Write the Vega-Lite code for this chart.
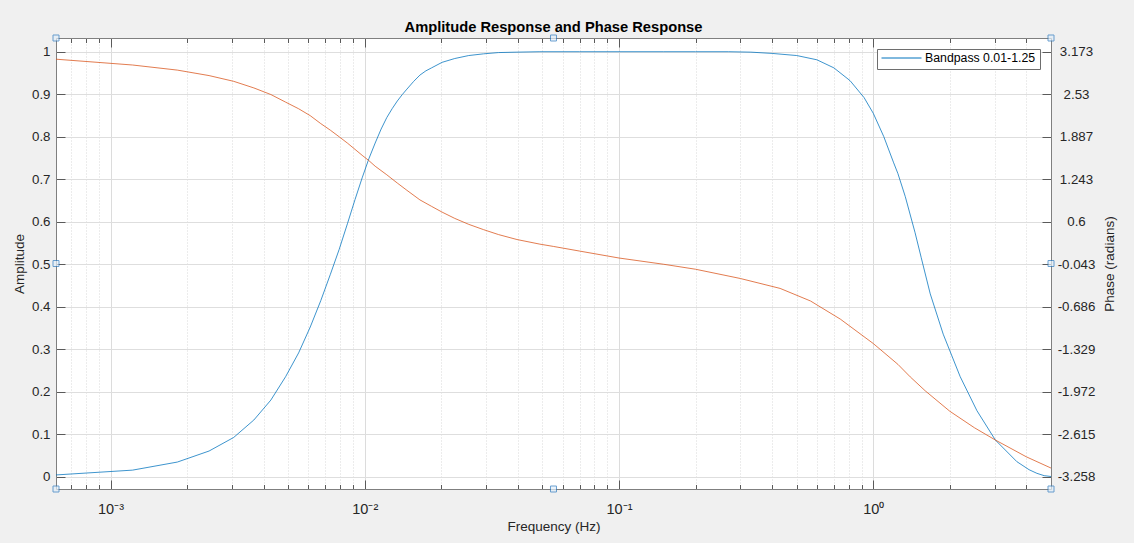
{
  "$schema": "https://vega.github.io/schema/vega-lite/v6.json",
  "width": 995,
  "height": 451,
  "autosize": {"type": "none"},
  "padding": {"left": 56, "top": 38, "right": 83, "bottom": 54},
  "background": "#f0f0f0",
  "title": {
    "text": "Amplitude Response and Phase Response",
    "font": "Liberation Sans",
    "fontSize": 14.7,
    "fontWeight": "bold",
    "color": "#000000",
    "anchor": "middle",
    "offset": -1.5
  },
  "config": {
    "locale": {
      "number": {"decimal": ".", "thousands": ",", "grouping": [3], "currency": ["$", ""], "minus": "-"}
    },
    "view": {"fill": "#ffffff", "stroke": "#7f7f7f"},
    "font": "Liberation Sans",
    "axis": {
      "domain": false,
      "labelFont": "Liberation Sans",
      "labelFontSize": 13.3,
      "labelColor": "#262626",
      "titleFont": "Liberation Sans",
      "titleFontSize": 13.5,
      "titleFontWeight": "normal",
      "titleColor": "#262626",
      "tickColor": "#5a5a5a",
      "labelOverlap": false,
      "labelFlush": false
    }
  },
  "datasets": {
    "amp": [
      {"f": 0.00061035, "amp": 0.0037, "series": "Bandpass 0.01-1.25"},
      {"f": 0.0012207, "amp": 0.015, "series": "Bandpass 0.01-1.25"},
      {"f": 0.0018311, "amp": 0.034, "series": "Bandpass 0.01-1.25"},
      {"f": 0.0024414, "amp": 0.060, "series": "Bandpass 0.01-1.25"},
      {"f": 0.0030518, "amp": 0.092, "series": "Bandpass 0.01-1.25"},
      {"f": 0.0036621, "amp": 0.133, "series": "Bandpass 0.01-1.25"},
      {"f": 0.0042725, "amp": 0.180, "series": "Bandpass 0.01-1.25"},
      {"f": 0.0048828, "amp": 0.235, "series": "Bandpass 0.01-1.25"},
      {"f": 0.0054932, "amp": 0.291, "series": "Bandpass 0.01-1.25"},
      {"f": 0.0061035, "amp": 0.352, "series": "Bandpass 0.01-1.25"},
      {"f": 0.0067139, "amp": 0.414, "series": "Bandpass 0.01-1.25"},
      {"f": 0.0073242, "amp": 0.476, "series": "Bandpass 0.01-1.25"},
      {"f": 0.0079346, "amp": 0.535, "series": "Bandpass 0.01-1.25"},
      {"f": 0.0085449, "amp": 0.595, "series": "Bandpass 0.01-1.25"},
      {"f": 0.0091553, "amp": 0.652, "series": "Bandpass 0.01-1.25"},
      {"f": 0.0097656, "amp": 0.703, "series": "Bandpass 0.01-1.25"},
      {"f": 0.010376, "amp": 0.748, "series": "Bandpass 0.01-1.25"},
      {"f": 0.010986, "amp": 0.785, "series": "Bandpass 0.01-1.25"},
      {"f": 0.011597, "amp": 0.818, "series": "Bandpass 0.01-1.25"},
      {"f": 0.012207, "amp": 0.845, "series": "Bandpass 0.01-1.25"},
      {"f": 0.012817, "amp": 0.866, "series": "Bandpass 0.01-1.25"},
      {"f": 0.013428, "amp": 0.884, "series": "Bandpass 0.01-1.25"},
      {"f": 0.014038, "amp": 0.899, "series": "Bandpass 0.01-1.25"},
      {"f": 0.014648, "amp": 0.912, "series": "Bandpass 0.01-1.25"},
      {"f": 0.015564, "amp": 0.930, "series": "Bandpass 0.01-1.25"},
      {"f": 0.016479, "amp": 0.945, "series": "Bandpass 0.01-1.25"},
      {"f": 0.017395, "amp": 0.955, "series": "Bandpass 0.01-1.25"},
      {"f": 0.018311, "amp": 0.962, "series": "Bandpass 0.01-1.25"},
      {"f": 0.020142, "amp": 0.975, "series": "Bandpass 0.01-1.25"},
      {"f": 0.022583, "amp": 0.984, "series": "Bandpass 0.01-1.25"},
      {"f": 0.025635, "amp": 0.991, "series": "Bandpass 0.01-1.25"},
      {"f": 0.029297, "amp": 0.995, "series": "Bandpass 0.01-1.25"},
      {"f": 0.033569, "amp": 0.998, "series": "Bandpass 0.01-1.25"},
      {"f": 0.039673, "amp": 0.999, "series": "Bandpass 0.01-1.25"},
      {"f": 0.048828, "amp": 1.0, "series": "Bandpass 0.01-1.25"},
      {"f": 0.07, "amp": 1.0, "series": "Bandpass 0.01-1.25"},
      {"f": 0.1, "amp": 1.0, "series": "Bandpass 0.01-1.25"},
      {"f": 0.15, "amp": 1.0, "series": "Bandpass 0.01-1.25"},
      {"f": 0.2, "amp": 1.0, "series": "Bandpass 0.01-1.25"},
      {"f": 0.27, "amp": 1.0, "series": "Bandpass 0.01-1.25"},
      {"f": 0.33, "amp": 0.999, "series": "Bandpass 0.01-1.25"},
      {"f": 0.4, "amp": 0.996, "series": "Bandpass 0.01-1.25"},
      {"f": 0.5, "amp": 0.991, "series": "Bandpass 0.01-1.25"},
      {"f": 0.6, "amp": 0.981, "series": "Bandpass 0.01-1.25"},
      {"f": 0.7, "amp": 0.962, "series": "Bandpass 0.01-1.25"},
      {"f": 0.81, "amp": 0.932, "series": "Bandpass 0.01-1.25"},
      {"f": 0.92, "amp": 0.892, "series": "Bandpass 0.01-1.25"},
      {"f": 1.0, "amp": 0.855, "series": "Bandpass 0.01-1.25"},
      {"f": 1.1, "amp": 0.80, "series": "Bandpass 0.01-1.25"},
      {"f": 1.2, "amp": 0.74, "series": "Bandpass 0.01-1.25"},
      {"f": 1.25, "amp": 0.713, "series": "Bandpass 0.01-1.25"},
      {"f": 1.336, "amp": 0.659, "series": "Bandpass 0.01-1.25"},
      {"f": 1.46, "amp": 0.574, "series": "Bandpass 0.01-1.25"},
      {"f": 1.544, "amp": 0.515, "series": "Bandpass 0.01-1.25"},
      {"f": 1.675, "amp": 0.43, "series": "Bandpass 0.01-1.25"},
      {"f": 1.884, "amp": 0.335, "series": "Bandpass 0.01-1.25"},
      {"f": 2.197, "amp": 0.235, "series": "Bandpass 0.01-1.25"},
      {"f": 2.556, "amp": 0.155, "series": "Bandpass 0.01-1.25"},
      {"f": 3.02, "amp": 0.086, "series": "Bandpass 0.01-1.25"},
      {"f": 3.67, "amp": 0.035, "series": "Bandpass 0.01-1.25"},
      {"f": 4.1, "amp": 0.016, "series": "Bandpass 0.01-1.25"},
      {"f": 4.4, "amp": 0.0075, "series": "Bandpass 0.01-1.25"},
      {"f": 4.7, "amp": 0.002, "series": "Bandpass 0.01-1.25"},
      {"f": 5.0, "amp": 0.0, "series": "Bandpass 0.01-1.25"}
    ],
    "phase": [
      {"f": 0.00061035, "phase": 3.06},
      {"f": 0.0012207, "phase": 2.972},
      {"f": 0.0018311, "phase": 2.895},
      {"f": 0.0024414, "phase": 2.812},
      {"f": 0.0030518, "phase": 2.725},
      {"f": 0.0036621, "phase": 2.625},
      {"f": 0.0042725, "phase": 2.525},
      {"f": 0.0048828, "phase": 2.41},
      {"f": 0.0054932, "phase": 2.31},
      {"f": 0.0061035, "phase": 2.205},
      {"f": 0.0067139, "phase": 2.085},
      {"f": 0.0073242, "phase": 1.985},
      {"f": 0.0079346, "phase": 1.885},
      {"f": 0.0085449, "phase": 1.79},
      {"f": 0.0091553, "phase": 1.695},
      {"f": 0.0097656, "phase": 1.605},
      {"f": 0.010376, "phase": 1.525},
      {"f": 0.010986, "phase": 1.44},
      {"f": 0.012207, "phase": 1.31},
      {"f": 0.013428, "phase": 1.185},
      {"f": 0.014648, "phase": 1.075},
      {"f": 0.016479, "phase": 0.93},
      {"f": 0.018311, "phase": 0.832},
      {"f": 0.020142, "phase": 0.745},
      {"f": 0.022583, "phase": 0.65},
      {"f": 0.025635, "phase": 0.56},
      {"f": 0.029297, "phase": 0.48},
      {"f": 0.033569, "phase": 0.405},
      {"f": 0.039673, "phase": 0.33},
      {"f": 0.048828, "phase": 0.26},
      {"f": 0.0553, "phase": 0.225},
      {"f": 0.07, "phase": 0.155},
      {"f": 0.1, "phase": 0.05},
      {"f": 0.15, "phase": -0.045},
      {"f": 0.2, "phase": -0.12},
      {"f": 0.3, "phase": -0.26},
      {"f": 0.43, "phase": -0.41},
      {"f": 0.566, "phase": -0.6},
      {"f": 0.742, "phase": -0.875},
      {"f": 1.0, "phase": -1.245},
      {"f": 1.25, "phase": -1.56},
      {"f": 1.398, "phase": -1.75},
      {"f": 1.6, "phase": -1.96},
      {"f": 2.0, "phase": -2.27},
      {"f": 2.5, "phase": -2.52},
      {"f": 3.02, "phase": -2.705},
      {"f": 4.0, "phase": -2.96},
      {"f": 5.0, "phase": -3.13}
    ],
    "handlesUpper": [
      {"f": 0.00061035, "a": 1.0323},
      {"f": 0.05524, "a": 1.0323},
      {"f": 5.0, "a": 1.0323},
      {"f": 0.00061035, "a": 0.50145}
    ],
    "handlesLower": [
      {"f": 5.0, "a": 0.50145},
      {"f": 0.00061035, "a": -0.0294},
      {"f": 0.05524, "a": -0.0294},
      {"f": 5.0, "a": -0.0294}
    ]
  },
  "layer": [
    {
      "data": {"name": "amp"},
      "mark": {"type": "line", "strokeWidth": 0.9, "strokeOpacity": 0.85, "clip": true},
      "encoding": {
        "x": {
          "field": "f",
          "type": "quantitative",
          "scale": {"type": "log", "domain": [0.00061035, 5], "nice": false},
          "axis": {
            "orient": "bottom",
            "title": "Frequency (Hz)",
            "values": [0.001, 0.01, 0.1, 1],
            "labelExpr": "datum.value < 0.005 ? '10⁻³' : datum.value < 0.05 ? '10⁻²' : datum.value < 0.5 ? '10⁻¹' : '10⁰'",
            "labelFontSize": 14.5,
            "labelPadding": 22,
            "titlePadding": 4,
            "tickSize": -9,
            "grid": true,
            "gridColor": "#dcdcdc"
          }
        },
        "y": {
          "field": "amp",
          "type": "quantitative",
          "scale": {"domain": [-0.0294, 1.0323], "nice": false, "zero": false},
          "axis": {
            "orient": "left",
            "title": "Amplitude",
            "values": [0, 0.1, 0.2, 0.3, 0.4, 0.5, 0.6, 0.7, 0.8, 0.9, 1],
            "format": ".4~g",
            "tickSize": -9,
            "labelPadding": 15,
            "titlePadding": 5,
            "grid": true,
            "gridColor": "#dedede"
          }
        },
        "color": {
          "field": "series",
          "type": "nominal",
          "scale": {"range": ["#0072BD"]},
          "legend": {
            "title": null,
            "orient": "none",
            "legendX": 821,
            "legendY": 11,
            "symbolType": "stroke",
            "symbolSize": 1600,
            "symbolStrokeWidth": 1,
            "labelFont": "Liberation Sans",
            "labelFontSize": 12.3,
            "labelColor": "#000000",
            "labelOffset": 3,
            "padding": 4,
            "clipHeight": 10,
            "fillColor": "#ffffff",
            "strokeColor": "#6e6e6e"
          }
        }
      }
    },
    {
      "data": {"name": "phase"},
      "mark": {"type": "line", "strokeWidth": 0.9, "strokeOpacity": 0.85, "color": "#D95319", "clip": true},
      "encoding": {
        "x": {
          "field": "f",
          "type": "quantitative",
          "scale": {"type": "log", "domain": [0.00061035, 5], "nice": false},
          "axis": {
            "orient": "top",
            "title": null,
            "labels": false,
            "grid": false,
            "values": [0.001, 0.01, 0.1, 1],
            "tickSize": -9
          }
        },
        "y": {
          "field": "phase",
          "type": "quantitative",
          "scale": {"domain": [-3.447, 3.381], "nice": false, "zero": false},
          "axis": {
            "orient": "right",
            "title": "Phase (radians)",
            "titleAngle": 270,
            "titleBaseline": "top",
            "values": [-3.258, -2.615, -1.972, -1.329, -0.686, -0.043, 0.6, 1.243, 1.887, 2.53, 3.173],
            "format": ".4~g",
            "labelAlign": "center",
            "tickSize": -9,
            "labelPadding": 34,
            "titlePadding": 8,
            "grid": false
          }
        }
      }
    },
    {
      "data": {"name": "handlesUpper"},
      "mark": {"type": "point", "shape": "square", "size": 36, "filled": true, "fill": "#e3eef8", "stroke": "#2f7bbf", "strokeWidth": 1},
      "encoding": {
        "x": {
          "field": "f",
          "type": "quantitative",
          "scale": {"type": "log", "domain": [0.00061035, 5], "nice": false},
          "axis": {
            "orient": "bottom",
            "title": null,
            "labels": false,
            "values": [0.0007, 0.0008, 0.0009, 0.002, 0.003, 0.004, 0.005, 0.006, 0.007, 0.008, 0.009, 0.02, 0.03, 0.04, 0.05, 0.06, 0.07, 0.08, 0.09, 0.2, 0.3, 0.4, 0.5, 0.6, 0.7, 0.8, 0.9, 2, 3, 4],
            "tickSize": -4.5,
            "grid": true,
            "gridColor": "#d8d8d8",
            "gridDash": [1, 2]
          }
        },
        "y": {"field": "a", "type": "quantitative", "scale": {"domain": [-0.0294, 1.0323], "nice": false, "zero": false}, "axis": null}
      }
    },
    {
      "data": {"name": "handlesLower"},
      "mark": {"type": "point", "shape": "square", "size": 36, "filled": true, "fill": "#e3eef8", "stroke": "#2f7bbf", "strokeWidth": 1},
      "encoding": {
        "x": {
          "field": "f",
          "type": "quantitative",
          "scale": {"type": "log", "domain": [0.00061035, 5], "nice": false},
          "axis": {
            "orient": "top",
            "title": null,
            "labels": false,
            "grid": false,
            "values": [0.0007, 0.0008, 0.0009, 0.002, 0.003, 0.004, 0.005, 0.006, 0.007, 0.008, 0.009, 0.02, 0.03, 0.04, 0.05, 0.06, 0.07, 0.08, 0.09, 0.2, 0.3, 0.4, 0.5, 0.6, 0.7, 0.8, 0.9, 2, 3, 4],
            "tickSize": -4.5
          }
        },
        "y": {"field": "a", "type": "quantitative", "scale": {"domain": [-0.0294, 1.0323], "nice": false, "zero": false}, "axis": null}
      }
    }
  ],
  "resolve": {
    "scale": {"y": "independent"},
    "axis": {"x": "independent", "y": "independent"}
  }
}
